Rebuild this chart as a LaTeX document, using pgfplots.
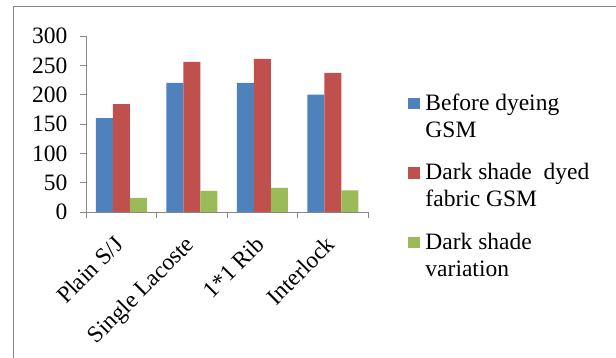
\documentclass[border=0pt]{standalone}
\usepackage{pgfplots}
\pgfplotsset{compat=1.18}
\usepackage{fontspec}
\setmainfont{Liberation Serif}
\definecolor{cblue}{HTML}{4F81BD}
\definecolor{cred}{HTML}{C0504D}
\definecolor{cgreen}{HTML}{9BBB59}
\definecolor{axgrey}{HTML}{868686}
\newcommand{\legtxt}[1]{\parbox[t]{185bp}{\strut #1\strut}}
\begin{document}
\begin{tikzpicture}
\useasboundingbox (0,0) rectangle (616bp,358bp);
\draw[axgrey, line width=1.5bp] (13.5bp,-5bp) -- (13.5bp,351.5bp) -- (625bp,351.5bp);
\begin{axis}[
  at={(86bp,146bp)}, anchor=south west,
  scale only axis, width=282bp, height=176bp,
  xmin=-0.5, xmax=3.5, ymin=0, ymax=300,
  axis lines*=left,
  axis line style={axgrey, line width=1bp},
  ybar=0pt, bar width=17bp,
  ytick={0,50,...,300},
  tick align=outside,
  major tick length=6bp,
  minor tick length=6bp,
  ytick style={axgrey, line width=1bp},
  xtick={0,1,2,3},
  xticklabels={Plain S/J, Single Lacoste, 1*1 Rib, Interlock},
  major x tick style={draw=none},
  minor xtick={-0.5,0.5,1.5,2.5,3.5},
  minor x tick style={axgrey, line width=1bp},
  tick label style={font=\fontsize{23.5bp}{27bp}\selectfont},
  /pgf/number format/assume math mode=true,
  yticklabel style={xshift=-9bp},
  xticklabel style={xshift=-8bp, yshift=-15bp, rotate=45, anchor=north east, inner sep=1bp},
  legend cell align=left,
  legend image code/.code={\fill[#1] (0bp,-7.5bp) rectangle (12.5bp,4bp);},
  legend style={at={(1.1418,0.684)}, anchor=north west, draw=none, fill=none,
    inner sep=0pt, outer sep=0pt, row sep=49bp, column sep=5bp,
    nodes={inner sep=0pt},
    font=\fontsize{23.5bp}{27bp}\selectfont},
]
\addplot[fill=cblue, draw=none] coordinates {(0,160) (1,220) (2,220) (3,200)};
\addlegendentry{\legtxt{Before dyeing\\GSM}}
\addplot[fill=cred, draw=none] coordinates {(0,184) (1,256) (2,261) (3,237)};
\addlegendentry{\legtxt{Dark shade~ dyed\\fabric GSM}}
\addplot[fill=cgreen, draw=none] coordinates {(0,24) (1,36) (2,41) (3,37)};
\addlegendentry{\legtxt{Dark shade\\variation}}
\end{axis}
\end{tikzpicture}
\end{document}
